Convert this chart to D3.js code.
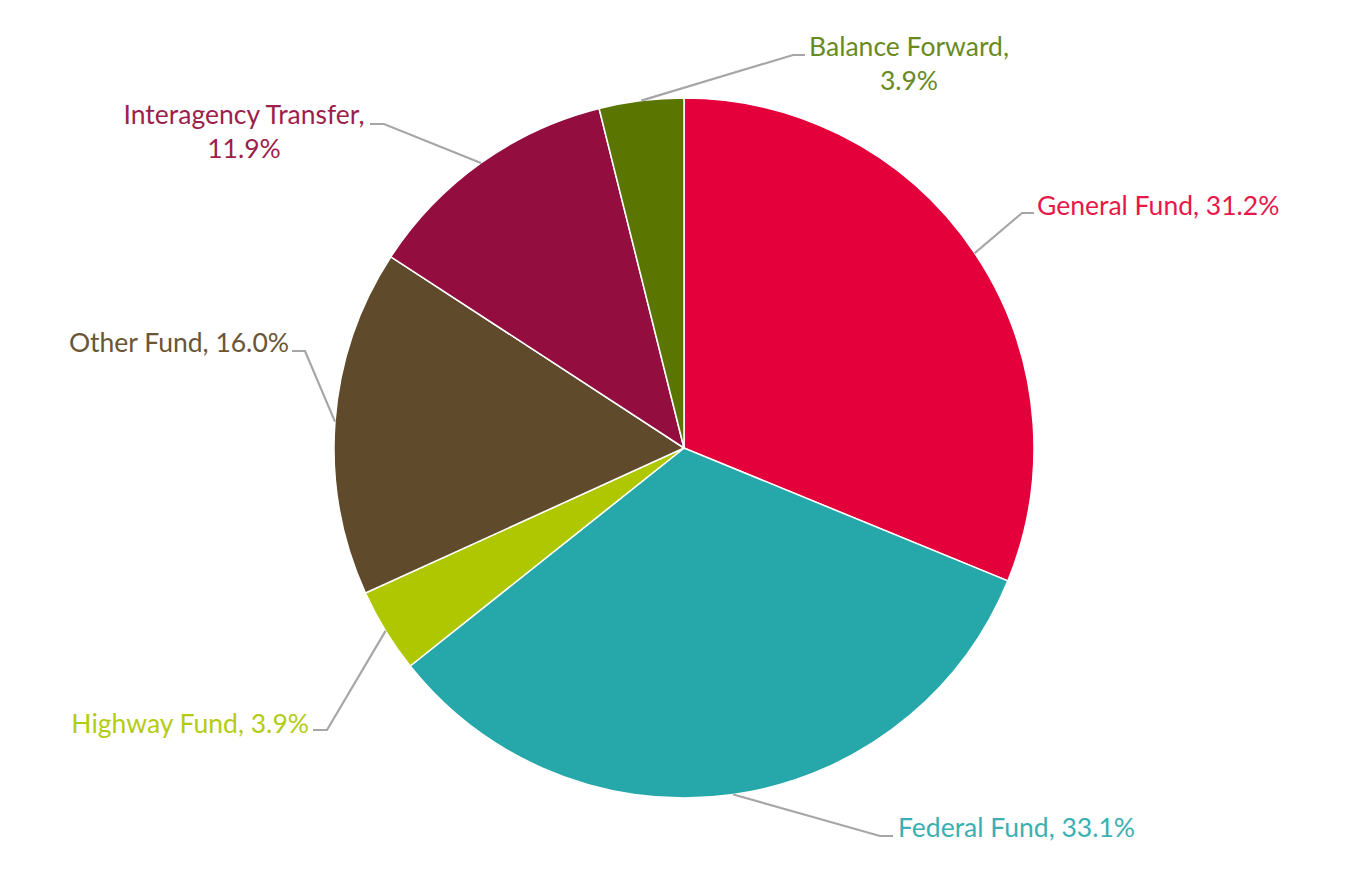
<!DOCTYPE html>
<html><head><meta charset="utf-8">
<script src="https://cdn.jsdelivr.net/npm/d3@7"></script>
<style>html,body{margin:0;padding:0;background:#fff;}svg{display:block;}</style>
</head><body>
<svg id="chart" width="1346" height="883"></svg>
<script>
const categories = ["General Fund","Federal Fund","Highway Fund","Other Fund","Interagency Transfer","Balance Forward"];
const values = [31.2, 33.1, 3.9, 16.0, 11.9, 3.9];
const labelTexts = [["General Fund, 31.2%"],["Federal Fund, 33.1%"],["Highway Fund, 3.9%"],["Other Fund, 16.0%"],["Interagency Transfer,","11.9%"],["Balance Forward,","3.9%"]];
const colors = ["#E4003A","#26A8AA","#AEC700","#5F4A2B","#930D3F","#5A7500"];
const textColors = ["#E8174A","#3AB0B1","#B3CC12","#6A5535","#9C1F4C","#6A8A1E"];
// label layout: elbow point, horizontal end, text anchor x, baseline, alignment
const labelLayout = [
  {ex:1022, ey:213, hx:1034, tx:1037, ty:215, anchor:"start"},
  {ex:880, ey:836, hx:893, tx:898, ty:837, anchor:"start"},
  {ex:327, ey:730, hx:313, tx:309, ty:733, anchor:"end"},
  {ex:305, ey:351, hx:292, tx:289, ty:352, anchor:"end"},
  {ex:384, ey:124, hx:370, tx:244, ty:124, anchor:"middle"},
  {ex:793, ey:55, hx:805, tx:909, ty:56, anchor:"middle"}
];

const svg = d3.select("#chart");
const cx = 684, cy = 448, r = 350;
const g = svg.append("g").attr("transform", `translate(${cx},${cy})`);
const pie = d3.pie().sort(null).value(d => d)(values);
const arc = d3.arc().innerRadius(0).outerRadius(r);

g.selectAll("path.slice").data(pie).join("path")
  .attr("class","slice")
  .attr("d", arc)
  .attr("fill", (d,i) => colors[i])
  .attr("stroke", "#fff").attr("stroke-width", 1.5);

const lines = svg.append("g");
pie.forEach((d,i) => {
  const a = (d.startAngle + d.endAngle)/2;
  const sx = cx + r*Math.sin(a), sy = cy - r*Math.cos(a);
  const L = labelLayout[i];
  lines.append("polyline")
    .attr("points", `${sx},${sy} ${L.ex},${L.ey} ${L.hx},${L.ey}`)
    .attr("fill","none").attr("stroke","#A6A6A6").attr("stroke-width",2.2);
  const t = svg.append("text")
    .attr("x", L.tx).attr("y", L.ty)
    .attr("text-anchor", L.anchor)
    .attr("fill", textColors[i])
    .style("font-family", "Lato, 'Open Sans', sans-serif")
    .style("font-size", "26.5px");
  labelTexts[i].forEach((s,j) => {
    t.append("tspan").attr("x", L.tx).attr("dy", j===0 ? 0 : 34).text(s);
  });
});
</script>
</body></html>
